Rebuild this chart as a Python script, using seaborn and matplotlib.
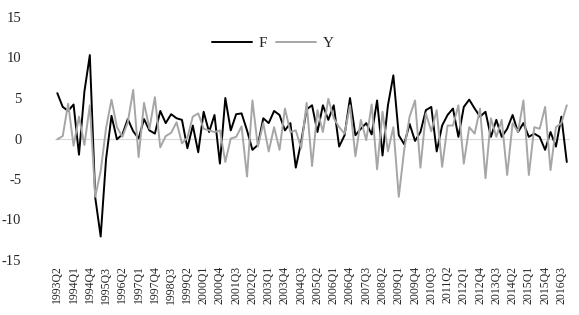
import numpy as np
import pandas as pd
import matplotlib
matplotlib.use('Agg')
import matplotlib.pyplot as plt
import seaborn as sns

# quarterly series, 1993Q2 .. 2016Q4
start_year, start_q = 1993, 2
n_points = 95

f_values = [5.6, 3.9, 3.4, 4.2, -2.0, 5.8, 10.3, -7.3, -12.1, -2.5,
            2.8, -0.1, 0.5, 2.4, 0.9, 0.0, 2.4, 1.0, 0.6, 3.4,
            1.9, 3.0, 2.5, 2.3, -1.2, 1.6, -1.7, 3.3, 0.8, 2.9,
            -3.1, 5.0, 1.0, 3.0, 3.1, 1.0, -1.4, -0.8, 2.5, 1.9,
            3.4, 2.9, 1.0, 1.9, -3.6, -0.4, 3.6, 4.1, 0.8, 4.1,
            2.3, 4.1, -1.0, 0.4, 5.0, 0.4, 1.2, 1.9, 0.5, 4.7,
            -2.1, 4.1, 7.8, 0.4, -0.7, 1.8, -0.3, 0.8, 3.5, 3.9,
            -1.6, 1.6, 2.9, 3.7, 0.2, 3.9, 4.8, 3.7, 2.7, 3.3,
            0.2, 2.3, 0.2, 1.2, 2.9, 0.8, 1.9, 0.2, 0.6, 0.2,
            -1.4, 0.8, -1.0, 2.7, -2.9]

y_values = [-0.1, 0.3, 4.3, -0.9, 2.7, -0.8, 4.1, -7.2, -4.0, 1.3,
            4.8, 1.4, 0.2, 2.0, 6.0, -2.3, 4.4, 1.2, 5.1, -1.1,
            0.3, 0.7, 2.0, -0.6, 0.1, 2.7, 3.1, 1.2, 1.0, 0.8,
            1.0, -2.9, 0.0, 0.2, 1.5, -4.7, 4.7, -1.0, 1.9, -1.6,
            1.4, -1.4, 3.7, 0.8, 1.0, -1.2, 4.4, -3.4, 3.5, 0.8,
            4.9, 2.5, 1.4, 0.6, 4.1, -2.2, 2.3, -0.2, 4.2, -3.8,
            3.3, -1.6, 1.4, -7.2, -1.4, 2.7, 4.7, -3.6, 3.1, 0.9,
            3.5, -3.5, 1.6, 1.6, 4.1, -3.1, 1.4, 0.6, 3.7, -4.9,
            2.5, 0.2, 2.3, -4.5, 1.9, 0.8, 4.7, -4.5, 1.4, 1.2,
            3.9, -3.9, 1.4, 1.9, 4.1]

quarters = []
for i in range(n_points):
    k = (start_q - 1) + i
    quarters.append(f"{start_year + k // 4}Q{k % 4 + 1}")

y_ticks = [-15, -10, -5, 0, 5, 10, 15]

df = pd.DataFrame({
    'idx': list(range(n_points)) * 2,
    'value': f_values + y_values,
    'series': ['F'] * n_points + ['Y'] * n_points,
})

sns.set_style('white')
plt.rcParams['font.family'] = ['Liberation Serif', 'DejaVu Serif']

fig = plt.figure(figsize=(5.79, 3.15), dpi=100)
ax = fig.add_axes([54.6 / 579, 1 - 260 / 315, (569.5 - 54.6) / 579, (260 - 17) / 315])

ax.axhline(0, color='#d9d9d9', linewidth=0.8, zorder=0)
sns.lineplot(data=df, x='idx', y='value', hue='series',
             palette={'F': '#000000', 'Y': '#a6a6a6'},
             linewidth=1.4, ax=ax, legend=True)

ax.set_xlim(-0.5, n_points - 0.5)
ax.set_ylim(-15, 15)
ax.set_yticks(y_ticks)
ax.set_yticklabels([str(t) for t in y_ticks], fontsize=10.5)
ax.set_xticks(range(0, n_points, 3))
ax.set_xticklabels(quarters[::3], rotation=90, fontsize=8.5)
ax.tick_params(axis='y', length=0, pad=24)
ax.tick_params(axis='x', length=0, pad=4)
ax.set_xlabel('')
ax.set_ylabel('')
for s in ax.spines.values():
    s.set_visible(False)

handles, labels = ax.get_legend_handles_labels()
ax.legend(handles, labels, loc='center', ncol=2, frameon=False,
          bbox_to_anchor=(273 / 579, 1 - 43 / 315), bbox_transform=fig.transFigure,
          fontsize=11, handlelength=2.6, columnspacing=0.6, handletextpad=0.45)

fig.savefig('out.png', dpi=100)
